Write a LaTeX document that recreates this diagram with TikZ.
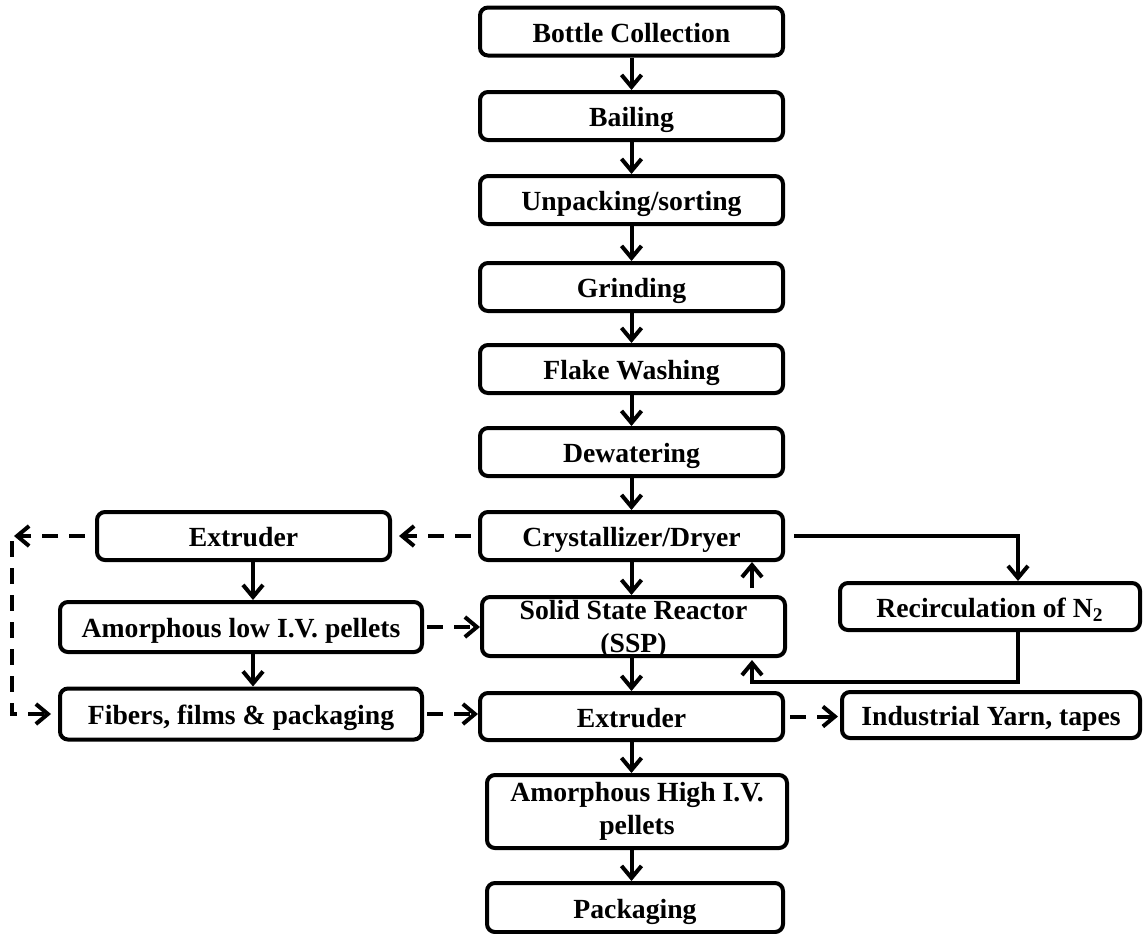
\documentclass[tikz,border=0pt]{standalone}
\usepackage{fontspec}
\setmainfont{Liberation Serif}
\usetikzlibrary{arrows.meta,calc}
\begin{document}
\begin{tikzpicture}[x=0.5pt,y=-0.5pt,
  box/.style={draw,line width=2pt,rounded corners=4pt,inner sep=0pt,align=center,
    font=\fontsize{13.85}{16.5}\selectfont\bfseries},
  one/.style={text height=12.5pt,text depth=2pt},
  cbox/.style={box,one,minimum width=151.5pt,minimum height=24pt},
  arr/.style={line width=2pt,-{Straight Barb[length=6pt,width=10pt,line width=2pt]}},
  darr/.style={arr,dash pattern=on 8pt off 5.5pt}]
\useasboundingbox (0,0) rectangle (1144,933);
% centre column
\node[cbox] (bc)    at (631.5,31.5) {Bottle Collection};
\node[cbox] (bail)  at (631.5,116)  {Bailing};
\node[cbox] (unp)   at (631.5,200)  {Unpacking/sorting};
\node[cbox] (grind) at (631.5,287)  {Grinding};
\node[cbox] (flake) at (631.5,369)  {Flake Washing};
\node[cbox] (dew)   at (631.5,452)  {Dewatering};
\node[cbox] (cry)   at (631.5,536)  {Crystallizer/Dryer};
\node[box,minimum width=151.5pt,minimum height=29.5pt] (ssp) at (633.5,626.5)
  {\raisebox{-5pt}[0pt][0pt]{\begin{tabular}{@{}c@{}}Solid State Reactor\\(SSP)\end{tabular}}};
\node[box,one,minimum width=151.5pt,minimum height=23.5pt] (ext2) at (631.5,716.5) {Extruder};
\node[box,minimum width=150pt,minimum height=36.5pt] (high) at (637,811.5) {Amorphous High I.V.\\pellets};
\node[box,one,minimum width=148pt,minimum height=24.5pt] (pack) at (635,907.5) {Packaging};
% left column
\node[box,one,minimum width=146.5pt,minimum height=24pt] (ext1) at (243.5,536) {Extruder};
\node[box,one,minimum width=181pt,minimum height=25pt] (low) at (241,627) {Amorphous low I.V. pellets};
\node[box,one,minimum width=181pt,minimum height=25.5pt] (fib) at (241,714) {Fibers, films \& packaging};
% right column
\node[box,one,minimum width=150pt,minimum height=23.5pt] (rec) at (990,606.5) {Recirculation of N\textsubscript{2}};
\node[box,one,minimum width=149pt,minimum height=23pt] (ind) at (991,715) {Industrial Yarn, tapes};
\coordinate (cA) at (14,536);
\coordinate (cB) at (12,541);
% main flow
\draw[arr] (bc) -- (bail);
\draw[arr] (bail) -- (unp);
\draw[arr] (unp) -- (grind);
\draw[arr] (grind) -- (flake);
\draw[arr] (flake) -- (dew);
\draw[arr] (dew) -- (cry);
\draw[arr] (cry.south) -- (cry.south |- ssp.north);
\draw[arr] (ext2.north |- ssp.south) -- (ext2.north);
\draw[arr] (ext2.south) -- (ext2.south |- high.north);
\draw[arr] (ext2.south |- high.south) -- (ext2.south |- pack.north);
% N2 loop
\draw[arr] ([xshift=59.25pt,yshift=3.5pt]ssp.north) -- ([xshift=60.25pt]cry.south);
\draw[arr] ([xshift=4.5pt]cry.east) -| ([xshift=14pt]rec.north);
\draw[arr] ([xshift=14pt]rec.south) -- ++(0,50) -| ([xshift=59.25pt,yshift=-1pt]ssp.south);
% left branch
\draw[darr] ([xshift=-3.5pt]cry.west) -- ([xshift=3.5pt]ext1.east);
\draw[darr] ([xshift=-5pt]ext1.west) -- (cA);
\draw[darr] (cB) |- ([xshift=-3.5pt]fib.west);
\draw[arr] ([xshift=4.75pt]ext1.south) -- ([xshift=6pt]low.north);
\draw[arr] ([xshift=6pt]low.south) -- ([xshift=6pt]fib.north);
\draw[darr] ([xshift=1.5pt]low.east) -- (low.east -| ssp.west);
\draw[darr] ([xshift=1.5pt]fib.east) -- (fib.east -| ext2.west);
\draw[darr] ([xshift=2.5pt]ext2.east) -- ([xshift=-1pt]ext2.east -| ind.west);
\end{tikzpicture}
\end{document}
